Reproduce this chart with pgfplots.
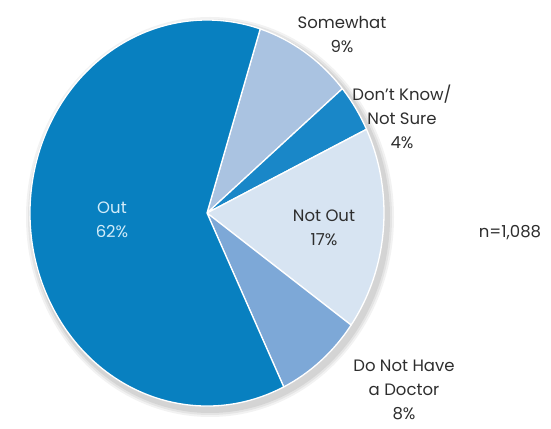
\documentclass[border=0pt]{standalone}
\usepackage{pgfplots}
\pgfplotsset{compat=1.18}
\usepackage{fontspec}
\setmainfont{Poppins}
\definecolor{cOut}{HTML}{0880C0}
\definecolor{cSome}{HTML}{AAC3E1}
\definecolor{cDK}{HTML}{1987C8}
\definecolor{cNot}{HTML}{D7E4F2}
\definecolor{cDNH}{HTML}{7DA8D7}
\definecolor{txt}{HTML}{2E2E2E}
\definecolor{outtxt}{HTML}{D2ECF9}
% shares (percent), clockwise from the top
\def\vSome{9}\def\vDK{4}\def\vNot{17}\def\vDNH{8}\def\vOut{62}
\def\cx{207}\def\cy{215}\def\rx{177}\def\ry{193}
\pgfmathsetmacro\aA{72.5}
\pgfmathsetmacro\aB{\aA-3.6*\vSome}
\pgfmathsetmacro\aC{\aB-3.6*\vDK}
\pgfmathsetmacro\aD{\aC-3.6*\vNot}
\pgfmathsetmacro\aE{\aD-3.6*\vDNH}
\pgfmathsetmacro\aF{\aE-3.6*\vOut}
\newcommand\slice[3]{\filldraw[fill=#1,draw=white,line width=1.3pt,line join=round]
  (axis cs:\cx,\cy) -- +(#2:\rx pt and \ry pt)
  arc[start angle=#2,end angle=#3,x radius=\rx pt,y radius=\ry pt] -- cycle;}
\newcommand\shadow[2]{\fill[black,opacity=#2] (axis cs:210,211) ellipse[x radius=177pt+#1pt,y radius=193pt+#1pt];}
\begin{document}
\begin{tikzpicture}
\begin{axis}[x=1pt,y=1pt,xmin=0,xmax=551,ymin=0,ymax=428,
  hide axis,clip=false,anchor=origin,at={(0,0)}]
\shadow{7}{0.05}
\shadow{5}{0.06}
\shadow{3}{0.07}
\slice{cSome}{\aA}{\aB}
\slice{cDK}{\aB}{\aC}
\slice{cNot}{\aC}{\aD}
\slice{cDNH}{\aD}{\aE}
\slice{cOut}{\aE}{\aF}
\begin{scope}[every node/.style={align=center,font=\fontsize{16.5}{24}\selectfont,text=txt}]
\node at (axis cs:342,394) {Somewhat\\9\%};
\node at (axis cs:402,311) {Don't Know/\\Not Sure\\4\%};
\node at (axis cs:324,200) {Not Out\\17\%};
\node[text=outtxt] at (axis cs:112,208) {Out\\62\%};
\node at (axis cs:510,195) {n=1,088};
\node at (axis cs:404,38) {Do Not Have\\a Doctor\\8\%};
\end{scope}
\end{axis}
\pgfresetboundingbox
\path (0,0) rectangle (551pt,428pt);
\end{tikzpicture}
\end{document}
